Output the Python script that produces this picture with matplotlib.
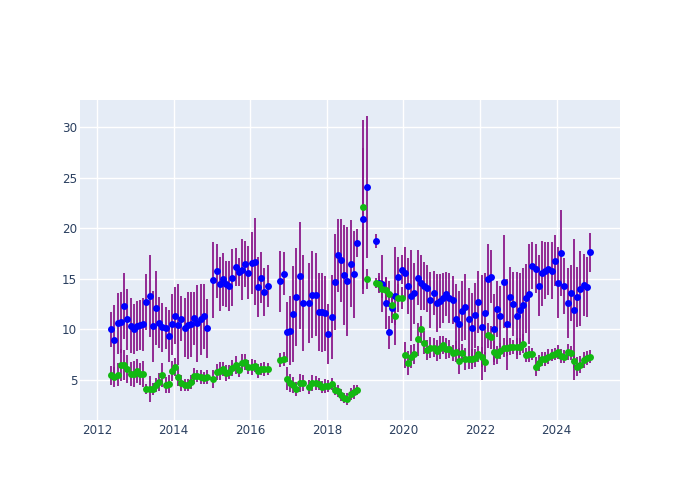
import numpy as np
import pandas as pd
import matplotlib
matplotlib.use("Agg")
import matplotlib.pyplot as plt
import matplotlib.dates as mdates

nan = np.nan

# monthly samples, May 2012 .. Nov 2024 (NaN = no data that month)
months = pd.date_range("2012-05-01", periods=151, freq="MS") + pd.Timedelta(days=14)

blue_vals = [
    10.0, 8.9, 10.6, 10.7, 12.3, 11.0, 10.35, 10.05, 10.35, 10.45,
    10.5, 12.7, 13.25, 10.3, 12.15, 10.65, 10.2, 10.15, 9.35, 10.5,
    11.35, 10.45, 11.05, 10.15, 10.4, 10.5, 11.1, 10.6, 11.0, 11.3,
    10.1, nan, 14.9, 15.75, 14.5, 14.95, 14.5, 14.3, 15.1, 16.15,
    15.7, 15.9, 16.45, 15.6, 16.55, 16.7, 14.2, 15.1, 13.7, 14.3,
    nan, nan, nan, 14.75, 15.5, 9.75, 9.85, 11.5, 13.2, 15.3,
    12.6, nan, 12.6, 13.4, 13.4, 11.75, 11.7, 11.6, 9.55, 11.25,
    14.7, 17.3, 16.85, 15.4, 14.75, 16.5, 15.45, 18.55, nan, 20.95,
    24.05, nan, nan, 18.7, 14.55, 14.5, 12.6, 9.7, 12.1, 13.3,
    15.2, 15.9, 15.6, 14.3, 13.3, 13.55, 15.1, 14.6, 14.3, 14.05,
    12.9, 13.6, 12.6, 12.8, 13.1, 13.5, 13.1, 12.9, 11.0, 10.5,
    11.8, 12.2, 11.05, 10.1, 11.4, 12.7, 10.2, 11.6, 15.0, 15.2,
    10.0, 12.0, 11.3, 14.7, 10.5, 13.15, 12.5, 11.35, 11.95, 12.4,
    13.05, 13.5, 16.3, 16.0, 14.3, 15.55, 15.8, 16.0, 15.8, 16.8,
    14.6, 17.55, 14.3, 12.6, 13.6, 11.95, 13.2, 14.0, 14.35, 14.2,
    17.6,
]
blue_err = [
    1.7, 3.5, 3.0, 3.0, 3.3, 3.0, 2.7, 2.45, 2.5, 2.45,
    2.6, 2.8, 4.05, 3.5, 3.65, 2.5, 2.4, 2.1, 2.6, 3.0,
    2.8, 4.0, 2.2, 2.9, 3.3, 3.2, 2.6, 3.8, 3.5, 3.2,
    2.9, nan, 3.75, 2.7, 2.7, 2.6, 2.3, 2.5, 2.8, 1.9,
    1.4, 3.0, 2.3, 2.6, 3.05, 4.3, 2.95, 2.5, 2.4, 2.05,
    nan, nan, nan, 3.0, 2.15, 3.0, 3.4, 4.75, 4.85, 5.3,
    4.75, nan, 3.95, 4.3, 4.1, 3.85, 3.9, 3.7, 3.0, 4.15,
    4.75, 3.6, 4.1, 4.95, 5.4, 4.3, 4.3, 1.4, nan, 7.0,
    7.0, nan, nan, 0.7, 1.0, 2.8, 2.6, 1.6, 1.5, 4.8,
    2.0, 1.4, 2.5, 2.8, 4.5, 3.0, 2.7, 2.7, 2.4, 2.3,
    2.8, 2.2, 2.9, 2.7, 2.5, 2.2, 2.5, 2.4, 3.5, 3.3,
    3.0, 3.3, 3.0, 3.5, 3.2, 3.1, 5.2, 4.0, 3.45, 2.6,
    3.5, 2.8, 3.0, 4.6, 4.5, 3.05, 3.2, 4.3, 3.6, 3.7,
    3.4, 4.9, 2.3, 2.4, 3.0, 3.2, 2.8, 2.6, 2.8, 2.55,
    3.5, 4.25, 2.8, 3.5, 2.8, 7.0, 3.0, 3.7, 3.05, 3.0,
    1.95,
]
green_vals = [
    5.47, 5.27, 5.53, 6.45, 6.49, 6.06, 5.56, 5.6, 5.86, 5.6,
    5.6, 4.14, 4.08, 4.08, 4.5, 4.8, 5.47, 4.53, 4.57, 5.86,
    6.3, 5.27, 4.67, 4.53, 4.5, 4.8, 5.4, 5.4, 5.33, 5.17,
    5.27, nan, 5.07, 5.82, 5.92, 6.1, 5.7, 5.8, 6.2, 6.5,
    6.0, 6.72, 6.77, 6.27, 6.27, 6.4, 5.89, 6.06, 6.06, 6.12,
    nan, nan, nan, 6.95, 7.07, 5.13, 4.73, 4.47, 4.14, 4.67,
    4.67, nan, 4.28, 4.67, 4.73, 4.6, 4.28, 4.4, 4.44, 4.6,
    3.98, 3.91, 3.48, 3.25, 3.15, 3.58, 3.78, 4.04, nan, 22.1,
    15.0, nan, nan, 14.6, 14.5, 14.0, 13.85, 13.5, 12.4, 11.3,
    13.1, 13.1, 7.48, 6.65, 7.31, 7.54, 9.0, 10.0, 8.7, 7.97,
    8.2, 8.2, 7.9, 8.2, 8.47, 8.1, 8.04, 7.64, 7.8, 6.9,
    7.64, 7.05, 7.1, 7.08, 7.18, 7.54, 7.3, 6.8, 9.4, 9.2,
    7.8, 7.48, 7.87, 8.2, 8.17, 8.3, 8.27, 8.3, 8.3, 8.6,
    7.44, 7.54, 7.57, 6.32, 6.71, 7.1, 7.05, 7.31, 7.44, 7.57,
    7.74, 7.38, 7.31, 7.8, 7.64, 6.9, 6.32, 6.52, 6.98, 7.18,
    7.31,
]
green_err = [
    0.95, 1.0, 1.1, 1.6, 1.5, 1.4, 1.2, 1.3, 1.2, 1.1,
    1.3, 0.5, 1.3, 0.6, 0.7, 0.9, 1.2, 0.8, 0.9, 1.0,
    0.9, 0.9, 0.8, 0.6, 0.6, 0.7, 0.8, 0.6, 0.7, 0.6,
    0.7, nan, 0.9, 0.8, 0.9, 0.7, 0.8, 0.7, 0.8, 0.9,
    0.7, 0.8, 0.8, 0.7, 0.8, 0.6, 0.7, 0.6, 0.7, 0.6,
    nan, nan, nan, 0.7, 0.7, 1.1, 0.9, 0.8, 0.7, 0.9,
    0.8, nan, 0.7, 0.8, 0.7, 0.6, 0.6, 0.7, 0.6, 0.6,
    0.5, 0.6, 0.6, 0.5, 0.6, 0.6, 0.7, 0.5, nan, 8.6,
    1.0, nan, nan, 0.5, 0.8, 0.9, 1.2, 1.3, 1.2, 0.9,
    1.4, 1.1, 1.3, 1.2, 1.1, 1.0, 1.6, 1.3, 1.1, 1.0,
    1.0, 0.9, 1.0, 1.1, 0.9, 1.0, 0.9, 0.8, 1.0, 1.3,
    0.9, 1.1, 1.0, 1.0, 0.9, 0.8, 1.0, 1.0, 1.2, 1.1,
    1.0, 0.9, 0.8, 0.9, 0.8, 0.8, 0.7, 0.8, 0.8, 0.9,
    0.7, 0.8, 0.6, 0.9, 0.8, 0.7, 0.7, 0.7, 0.6, 0.6,
    0.7, 0.7, 0.6, 0.8, 0.7, 0.7, 0.9, 0.8, 0.8, 0.7,
    0.6,
]

fig = plt.figure(figsize=(7, 5), dpi=100)
ax = fig.add_axes([80 / 700, 80 / 500, 540 / 700, 320 / 500])
ax.set_facecolor("#E5ECF6")

ebar = dict(fmt="o", ecolor="#8B1A8B", elinewidth=1.3, capsize=2.4, capthick=1.3,
            markersize=5, markeredgewidth=0, linestyle="none")
ax.errorbar(months, blue_vals, yerr=blue_err, color="#0000FF", zorder=3, **ebar)
ax.errorbar(months, green_vals, yerr=green_err, color="#12B812", zorder=3, **ebar)

ax.set_xlim(pd.Timestamp("2011-07-22"), pd.Timestamp("2025-08-28"))
ax.set_ylim(1.04, 32.67)
ax.xaxis.set_major_locator(mdates.YearLocator(2))
ax.xaxis.set_major_formatter(mdates.DateFormatter("%Y"))
ax.set_yticks([5, 10, 15, 20, 25, 30])

ax.grid(True, color="white", linewidth=1)
ax.set_axisbelow(True)
for s in ax.spines.values():
    s.set_visible(False)
ax.tick_params(length=0, labelsize=8.6, labelcolor="#2a3f5f")
ax.tick_params(axis="x", pad=3)
ax.tick_params(axis="y", pad=2)

fig.savefig("out.png", dpi=100)
